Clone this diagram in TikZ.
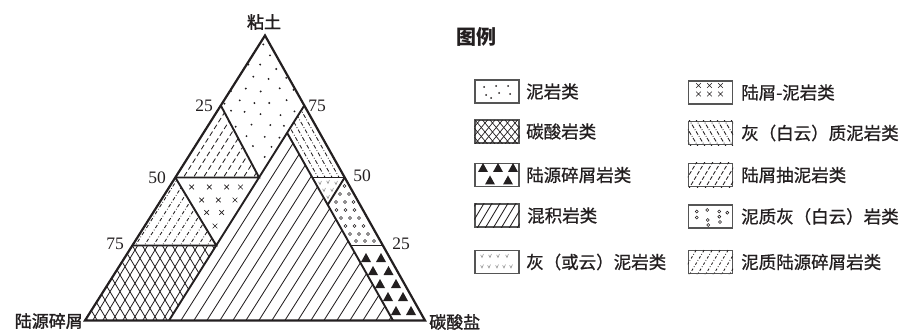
\documentclass[tikz,border=0pt]{standalone}
\usepackage{fontspec}
\setmainfont{Liberation Serif}
\newfontfamily\cjk{Noto Sans CJK SC}
\newfontfamily\cjkm[FakeBold=0.8]{Noto Sans CJK SC}
\newfontfamily\cjkv[FakeBold=1.6]{Noto Sans CJK SC}
\definecolor{ink}{HTML}{231F20}
\definecolor{boxc}{HTML}{555555}
\definecolor{vgray}{HTML}{8C8C8C}
\begin{document}
\begin{tikzpicture}[x=1pt,y=-1pt,
  frame/.style={draw=ink,line width=2.2pt,line join=miter},
  divl/.style={draw=ink,line width=1.9pt},
  hl/.style={draw=ink,line width=0.85pt},
  num/.style={font=\fontsize{17.5}{17.5}\selectfont,inner sep=0pt,text=ink},
  vlbl/.style={font=\cjkv\fontsize{17}{17}\selectfont,inner sep=0pt,text=ink},
  ltxt/.style={font=\cjkm\fontsize{17.5}{17.5}\selectfont,inner sep=0pt,anchor=west,text=ink},
  lbox/.style={draw=boxc,line width=1.2pt,minimum width=44pt,minimum height=23pt,inner sep=0pt},
  tri/.pic={\fill[ink] (-5,4)--(5,4)--(0,-5)--cycle;},
  vm/.pic={\draw[vgray,line width=0.55pt] (-1.3,-1.2)--(0,1.5)--(1.4,-2);},
  xm/.pic={\draw[ink,line width=0.65pt] (-2.3,-2.3)--(2.3,2.3) (-2.3,2.3)--(2.3,-2.3);},
  cm/.pic={\draw[ink,line width=0.6pt] (0,0) circle (1.5pt);},
  dt/.pic={\fill[ink] (0,0) circle (1pt);}
]
\useasboundingbox (0,0) rectangle (902,331);

% ---------- triangle geometry ----------
\coordinate (T) at (265,35.5);
\coordinate (L) at (85,320.5);
\coordinate (R) at (425,320.5);
\coordinate (a1) at (220.8,105.5);
\coordinate (a2) at (175.3,177.5);
\coordinate (a3) at (132.4,245.5);
\coordinate (b1) at (304.3,105.5);
\coordinate (b2) at (344.7,177.5);
\coordinate (b3) at (382.9,245.5);
\coordinate (P1) at (259.1,177.5);
\coordinate (P2) at (216.3,245.5);
\coordinate (B1) at (169,320.5);
\coordinate (Q1) at (287.2,133);
\coordinate (Q2) at (312.3,177.5);
\coordinate (Q3) at (327.7,204.8);
\coordinate (Q4) at (350.7,245.5);
\coordinate (B2) at (393,320.5);

% dots (mudstone)
\begin{scope}
\clip (T)--(a1)--(P1)--(b1)--cycle;
\pgfmathsetseed{7}
\foreach \r in {0,...,12}{
  \foreach \c in {0,...,6}{
    \fill[ink] ({214+\c*16+mod(\r,2)*8+3*rand},{44+\r*11.5+2.5*rand}) circle (1.05pt);
  }}
\end{scope}

% dashed slashes
\begin{scope}
\clip (a1)--(a2)--(P1)--cycle;
\foreach \x in {60,70,...,300} \draw[hl,dash pattern=on 5pt off 3pt] (\x,325)--++(190,-300);
\end{scope}

% x marks
\foreach \p in {(191.7,187),(209.3,187),(226.7,187),(240.5,187),(201.7,200),(218.3,200),(235,200),(206.7,212.5),(221.7,212.5),(215,226)}
  \pic at \p {xm};

% dash-dot slashes (lower left)
\begin{scope}
\clip (a2)--(P2)--(a3)--cycle;
\foreach \x in {40,49,...,280} \draw[hl,dash pattern=on 3.5pt off 2pt on 0.7pt off 2pt] (\x,325)--++(190,-300);
\end{scope}

% crosshatch
\begin{scope}
\clip (a3)--(P2)--(B1)--(L)--cycle;
\foreach \x in {0,10,...,420} {\draw[hl] (\x,325)--++(150,-250); \draw[hl] (\x,325)--++(-150,-250);}
\end{scope}

% mixed hatch
\begin{scope}
\clip (Q1)--(B1)--(B2)--cycle;
\foreach \x in {100,113,...,420} \draw[hl] (\x,325)--++(190,-300);
\end{scope}

% backslash dash-dot strip
\begin{scope}
\clip (b1)--(Q1)--(Q2)--(b2)--cycle;
\foreach \x in {200,207,...,360} \draw[hl,dash pattern=on 4pt off 2pt on 0.8pt off 2pt] (\x,30)--++(169,300);
\end{scope}

% v marks
\foreach \p in {(320,183),(328,182),(336,183),(324,190),(332,190),(328,197)}
  \pic at \p {vm};

% circles
\foreach \p in {(344.5,186),(340,194),(349,194),(336,202),(345,202),(353.5,202),
  (336.5,210),(345.5,210),(354.5,210),(341,218),(350,218),(359,218),
  (345.5,226),(354.5,226),(363.5,226),(350,234),(359,234),(368,234),(356,241),(365,241),(374,241)}
  \pic at \p {cm};

% triangles
\foreach \p in {(366,258),(381,258),(373,271),(388.5,271),(380,284),(396,284),(388,297),(403,297),(396,311),(411,311)}
  \pic at \p {tri};

% boundaries
\draw[divl] (a1)--(P1)--(a2);
\draw[divl] (b1)--(B1);
\draw[divl] (a2)--(P2)--(a3);
\draw[divl] (Q1)--(B2);
\draw[divl] (Q2)--(b2);
\draw[divl] (b2)--(Q3);
\draw[divl] (Q4)--(b3);
\draw[frame] (T)--(L)--(R)--cycle;

% labels
\node[vlbl] (lt) at (264,22) {粘土};
\node[vlbl,anchor=east] (ll) at (83,321) {陆源碎屑};
\node[vlbl,anchor=west] (lr) at (429,322) {碳酸盐};
\node[num] (nl25) at (204,106) {25};
\node[num] (nl50) at (157,178) {50};
\node[num] (nl75) at (115,244) {75};
\node[num] (nr75) at (317,106) {75};
\node[num] (nr50) at (362,176) {50};
\node[num] (nr25) at (401,244) {25};

% ---------- legend ----------
\node[font=\cjk\bfseries\fontsize{20}{20}\selectfont,inner sep=0pt,anchor=west,text=ink] (lgt) at (456,37) {图例};

\node[lbox] (k1) at (497,91.5) {};
\node[lbox] (k2) at (497,131.5) {};
\node[lbox] (k3) at (497,175) {};
\node[lbox] (k4) at (497,215.5) {};
\node[lbox] (k5) at (497,262) {};
\node[lbox] (m1) at (710.5,92.5) {};
\node[lbox] (m2) at (710.5,133) {};
\node[lbox] (m3) at (710.5,175) {};
\node[lbox] (m4) at (710.5,216.5) {};
\node[lbox] (m5) at (710.5,262) {};

\node[ltxt] (s1) at (526,91.5) {泥岩类};
\node[ltxt] (s2) at (526,131.5) {碳酸岩类};
\node[ltxt] (s3) at (526,175) {陆源碎屑岩类};
\node[ltxt] (s4) at (527,215.5) {混积岩类};
\node[ltxt] (s5) at (526,262) {灰（或云）泥岩类};
\node[ltxt] (u1) at (741,92.5) {陆屑-泥岩类};
\node[ltxt] (u2) at (741,133) {灰（白云）质泥岩类};
\node[ltxt] (u3) at (741,175) {陆屑抽泥岩类};
\node[ltxt] (u4) at (741,216.5) {泥质灰（白云）岩类};
\node[ltxt] (u5) at (741,262) {泥质陆源碎屑岩类};

% legend patterns
\foreach \p in {(484,87),(486,95),(496,86),(499,93),(508,86),(510,94),(491,98)} \pic at \p {dt};
\begin{scope}
\clip (k2.south west) rectangle (k2.north east);
\foreach \x in {440,447.5,...,560} {\draw[hl,line width=0.7pt] (\x,150)--++(25,-30); \draw[hl,line width=0.7pt] (\x,150)--++(-25,-30);}
\end{scope}
\foreach \p in {(483,168),(498,168),(513,168),(490,180.5),(508,180.5)} \pic at \p {tri};
\begin{scope}
\clip (k4.south west) rectangle (k4.north east);
\foreach \x in {460,468,...,540} \draw[hl] (\x,230)--++(18,-30);
\end{scope}
\foreach \p in {(482,256),(490,256),(498,256),(507,256),(482,266.5),(489,266.5),(497,266.5),(504,266.5),(511,266.5)} \pic at \p {vm};

\foreach \p in {(698.5,85.5),(709.5,85.5),(720.5,85.5),(698.5,94),(709.5,94),(720.5,94)} \pic at \p {xm};
\begin{scope}
\clip (m2.south west) rectangle (m2.north east);
\foreach \x in {660,667,...,740} \draw[hl,dash pattern=on 4pt off 1.5pt on 0.8pt off 1.5pt] (\x,118)--++(18,30);
\end{scope}
\begin{scope}
\clip (m3.south west) rectangle (m3.north east);
\foreach \x in {680,688,...,760} \draw[hl,dash pattern=on 4pt off 2pt] (\x,190)--++(18,-30);
\end{scope}
\foreach \p in {(696.7,211.5),(707.3,210),(719.3,211.5),(727.3,212.7),(696.7,217.5),(707.7,220),(719.3,216.7),(720,222),(708.3,225)} \pic at \p {cm};
\begin{scope}
\clip (m5.south west) rectangle (m5.north east);
\foreach \x in {680,688,...,760} \draw[hl,dash pattern=on 2.5pt off 2pt on 0.7pt off 2pt] (\x,277)--++(18,-30);
\end{scope}
\end{tikzpicture}
\end{document}
